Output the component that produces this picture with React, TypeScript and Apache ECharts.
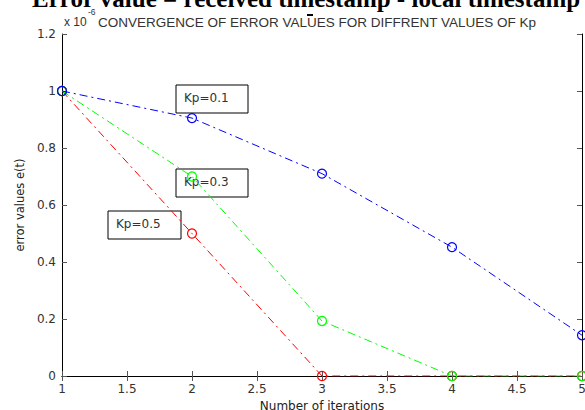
import React, { useEffect, useRef } from "react";
import * as echarts from "echarts";

const iterations = [1, 2, 3, 4, 5];
const kp01 = [1, 0.905, 0.71, 0.452, 0.143];
const kp03 = [1, 0.7, 0.193, 0, 0];
const kp05 = [1, 0.5, 0, 0, 0];
const seriesNames = ["Kp=0.1", "Kp=0.3", "Kp=0.5"];
const seriesColors = ["#0000ff", "#00ff00", "#ff0000"];

const FONT = "DejaVu Sans";
const TFONT = "Liberation Sans";

export default function App() {
  const ref = useRef<HTMLDivElement>(null);
  useEffect(() => {
    if (!ref.current) return;
    const chart = echarts.init(ref.current, null, { renderer: "svg" });
    const mk = (vals: number[], i: number) => ({
      name: seriesNames[i],
      type: "line",
      data: iterations.map((x, k) => [x, vals[k]]),
      symbol: "circle",
      symbolSize: 9,
      showSymbol: true,
      itemStyle: { color: "rgba(255,255,255,0)", borderColor: seriesColors[i], borderWidth: 1.2 },
      lineStyle: { color: seriesColors[i], width: 1, type: [8, 4, 2, 4] },
      z: 3 - i + 2,
    });
    const axisCommon = {
      type: "value",
      axisLine: { show: true, lineStyle: { color: "#000", width: 1 } },
      axisTick: { show: true, inside: true, length: 5, lineStyle: { color: "#555" } },
      splitLine: { show: false },
    };
    const boxes = [
      { label: "Kp=0.1", x: 176, y: 85, w: 72, h: 28 },
      { label: "Kp=0.3", x: 176, y: 169, w: 72, h: 28 },
      { label: "Kp=0.5", x: 108, y: 211, w: 73, h: 28 },
    ];
    chart.setOption({
      animation: false,
      backgroundColor: "#fff",
      grid: { left: 62, right: 3, top: 34, bottom: 34, outerBoundsMode: "none", containLabel: false },
      xAxis: [
        {
          ...axisCommon,
          min: 1,
          max: 5,
          interval: 0.5,
          position: "bottom",
          name: "Number of iterations",
          nameLocation: "middle",
          nameGap: 21,
          nameTextStyle: { fontFamily: FONT, fontSize: 12, color: "#222" },
          axisLabel: { fontFamily: FONT, fontSize: 12, color: "#333", margin: 7 },
        },
        {
          ...axisCommon,
          min: 1,
          max: 5,
          interval: 0.5,
          position: "top",
          axisLabel: { show: false },
        },
      ],
      yAxis: [
        {
          ...axisCommon,
          min: 0,
          max: 1.2,
          interval: 0.2,
          position: "left",
          name: "error values e(t)",
          nameLocation: "middle",
          nameGap: 31,
          nameTextStyle: { fontFamily: FONT, fontSize: 11.5, color: "#222" },
          axisLabel: {
            fontFamily: FONT,
            fontSize: 12,
            color: "#333",
            margin: 6,
            formatter: (v: number) => String(Math.round(v * 10) / 10),
          },
        },
        {
          ...axisCommon,
          min: 0,
          max: 1.2,
          interval: 0.2,
          position: "right",
          axisLabel: { show: false },
        },
      ],
      series: [mk(kp01, 0), mk(kp03, 1), mk(kp05, 2)],
      graphic: [
        {
          type: "text",
          left: 32,
          top: -14,
          style: {
            text: "Error value = received timestamp - local timestamp",
            fontFamily: "Liberation Serif",
            fontWeight: "bold",
            fontSize: 25,
            fill: "#000",
          },
        },
        {
          type: "rect",
          shape: { x: 307, y: 14, width: 6, height: 2 },
          style: { fill: "#000" },
        },
        {
          type: "text",
          x: 64,
          y: 22,
          style: { text: "x 10", fontFamily: TFONT, fontSize: 12, fill: "#333", textVerticalAlign: "middle" },
        },
        {
          type: "text",
          x: 88,
          y: 12,
          style: { text: "-6", fontFamily: TFONT, fontSize: 8.5, fill: "#333", textVerticalAlign: "middle" },
        },
        {
          type: "text",
          x: 98,
          y: 22,
          style: {
            text: "CONVERGENCE OF ERROR VALUES FOR DIFFRENT VALUES OF Kp",
            fontFamily: TFONT,
            fontSize: 13.5,
            fill: "#333",
            textVerticalAlign: "middle",
          },
        },
        ...boxes.map((b) => ({
          type: "group",
          x: b.x,
          y: b.y,
          z: 100,
          children: [
            {
              type: "rect",
              shape: { x: 0, y: 0, width: b.w, height: b.h },
              style: { fill: "rgba(255,255,255,0)", stroke: "#000", lineWidth: 1 },
            },
            {
              type: "text",
              x: 8,
              y: 12.5,
              style: {
                text: b.label,
                fontFamily: FONT,
                fontSize: 12,
                fill: "#333",
                textVerticalAlign: "middle",
              },
            },
          ],
        })),
      ],
    });
    return () => chart.dispose();
  }, []);
  return <div ref={ref} style={{ width: 585, height: 410, position: "absolute", left: 0, top: 0 }} />;
}
